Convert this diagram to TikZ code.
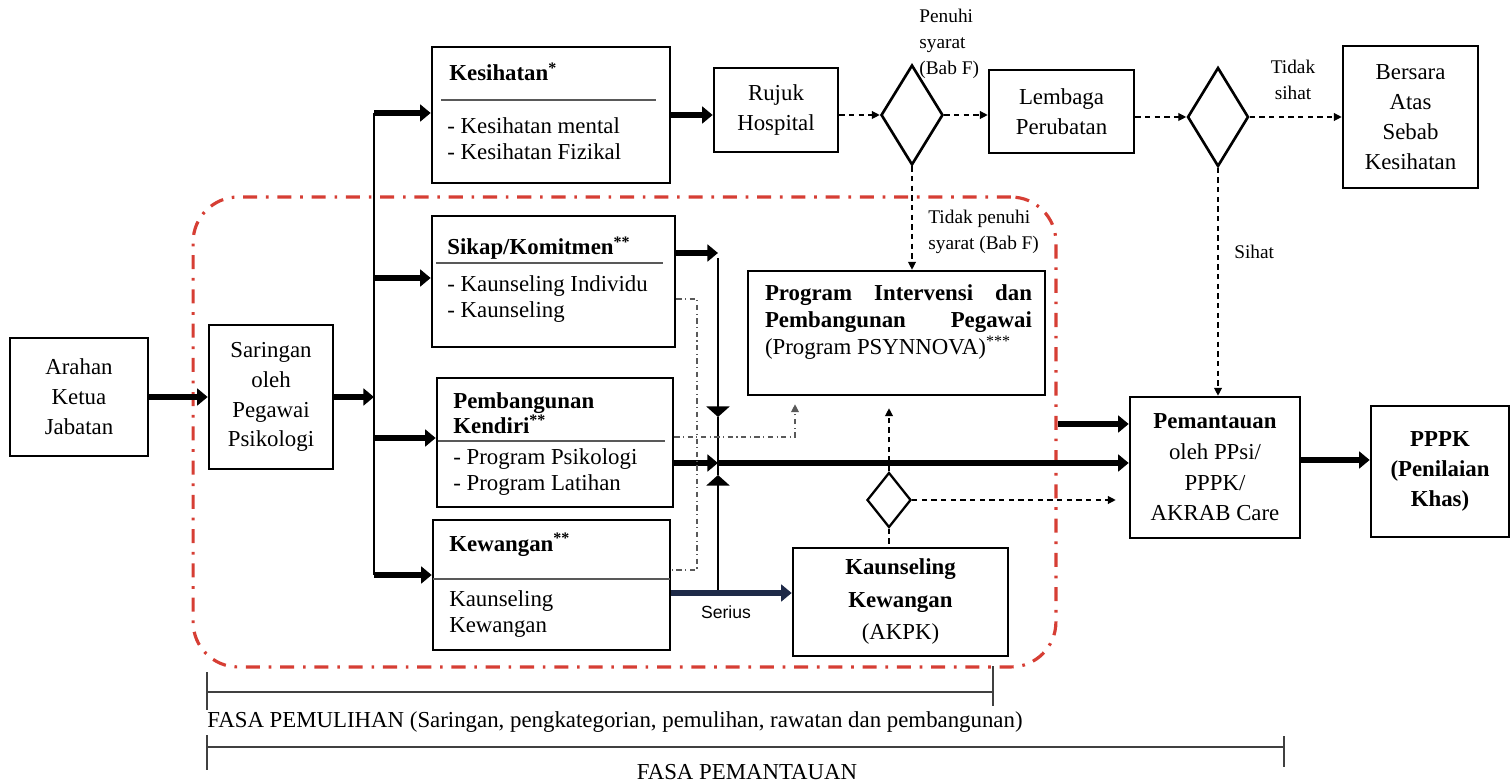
\documentclass[tikz,border=0pt]{standalone}
\usepackage{fontspec}
\setmainfont{Liberation Serif}
\setsansfont{Liberation Sans}
\usetikzlibrary{positioning}
\usetikzlibrary{calc}
\usetikzlibrary{shapes}
\usetikzlibrary{arrows.meta}

\definecolor{zonered}{RGB}{214,62,52}
\definecolor{serblue}{RGB}{30,42,72}

\tikzset{
  box/.style={draw, line width=1.5pt, inner sep=0pt, align=center, font=\fontsize{13}{17}\selectfont},
  dia/.style={draw, diamond, line width=1.5pt, inner sep=0pt},
  hd/.style={anchor=west, inner sep=0pt, align=left, font=\fontsize{13}{14.5}\selectfont\bfseries},
  it/.style={anchor=west, inner sep=0pt, align=left, font=\fontsize{13}{15}\selectfont},
  lbl/.style={inner sep=0pt, align=left, font=\fontsize{11}{15}\selectfont},
  sep/.style={line width=0.6pt, gray!70!black},
  big/.style={line width=3.3pt, -{Triangle[length=6pt,width=9.5pt]}},
  vln/.style={line width=1.6pt},
  mid/.style={-{Triangle[length=6pt,width=13pt]}},
  dsh/.style={line width=0.7pt, dash pattern=on 3pt off 2.5pt, -{Triangle[length=4.5pt,width=4.5pt]}},
  dd/.style={line width=0.6pt, gray!70!black, dash pattern=on 3pt off 2pt on 0.6pt off 2pt},
  zone/.style={draw=zonered, line width=1.8pt, dash pattern=on 8pt off 5pt on 1.5pt off 5pt, rounded corners=0.9cm},
  phase/.style={line width=0.8pt, black!75}
}

\begin{document}
\begin{tikzpicture}[x=0.02cm, y=-0.02cm]
\useasboundingbox (0,0) rectangle (1511,783);

\node[zone, minimum width=17.26cm, minimum height=9.4cm] (zn) at (624.5,432) {};

\node[box, minimum width=2.76cm, minimum height=2.36cm] (ar) at (79,397) {Arahan\\Ketua\\Jabatan};
\node[box, minimum width=2.48cm, minimum height=2.88cm] (sr) at (271,397) {Saringan\\oleh\\Pegawai\\Psikologi};

\node[box, minimum width=4.76cm, minimum height=2.72cm] (ks) at (551,115) {};
\node[box, minimum width=4.86cm, minimum height=2.62cm] (sk) at (553.5,281.5) {};
\node[box, minimum width=4.72cm, minimum height=2.58cm] (pk) at (555,442.5) {};
\node[box, minimum width=4.74cm, minimum height=2.6cm] (kw) at (551.5,585) {};

\node[hd] (kst) at (449,72) {Kesihatan\textsuperscript{*}};
\draw[sep] (441,100) to (656,100);
\node[it] (ksi) at (447,139) {- Kesihatan mental\\- Kesihatan Fizikal};

\node[hd] (skt) at (447,248) {Sikap/Komitmen\textsuperscript{**}};
\draw[sep] (436,263) to (663,263);
\node[it] (ski) at (447,299) {- Kaunseling Individu\\- Kaunseling};

\node[hd] (pkt) at (453,413) {Pembangunan\\Kendiri\textsuperscript{**}};
\draw[sep] (438,441) to (665,441);
\node[it] (pki) at (453,472) {- Program Psikologi\\- Program Latihan};

\node[hd] (kwt) at (449,545) {Kewangan\textsuperscript{**}};
\draw[sep] (433,579) to (670,579);
\node[it] (kwi) at (449,614) {Kaunseling\\Kewangan};

\node[box, minimum width=2.48cm, minimum height=1.68cm] (rh) at (776,110) {Rujuk\\Hospital};
\node[dia, minimum width=1.24cm, minimum height=2cm] (d1) at (912,115) {};
\node[box, minimum width=2.9cm, minimum height=1.66cm] (lp) at (1061.5,111.5) {Lembaga\\Perubatan};
\node[dia, minimum width=1.22cm, minimum height=1.98cm] (d2) at (1218,117) {};
\node[box, minimum width=2.7cm, minimum height=2.84cm] (bs) at (1410.5,117) {Bersara\\Atas\\Sebab\\Kesihatan};

\node[box, minimum width=5.94cm, minimum height=2.48cm] (pi) at (896.5,333) {};
\node[inner sep=0pt, text width=5.34cm, align=justify, font=\fontsize{13}{15.3}\selectfont] (pit) at (898.5,322) {\textbf{Program Intervensi dan\linebreak Pembangunan Pegawai}\linebreak (Program PSYNNOVA)\textsuperscript{***}};

\node[dia, line width=1.3pt, minimum width=0.88cm, minimum height=1.1cm] (d3) at (889,500) {};
\node[box, minimum width=4.3cm, minimum height=2.16cm, font=\fontsize{13}{18.5}\selectfont] (kk) at (900.5,602) {\textbf{Kaunseling}\\\textbf{Kewangan}\\(AKPK)};

\node[box, minimum width=3.4cm, minimum height=2.82cm, font=\fontsize{13}{17.5}\selectfont] (pm) at (1215,467.5) {\textbf{Pemantauan}\\oleh PPsi/\\PPPK/\\AKRAB Care};
\node[box, minimum width=2.76cm, minimum height=2.62cm, font=\fontsize{13}{17}\selectfont\bfseries] (pp) at (1440,471.5) {PPPK\\(Penilaian\\Khas)};

\node[lbl, anchor=west] (l1) at (919,44) {Penuhi\\syarat\\(Bab F)};
\node[lbl, anchor=west] (l2) at (928,232) {Tidak penuhi\\syarat (Bab F)};
\node[lbl, align=center] (l3) at (1293,80) {Tidak\\sihat};
\node[lbl, anchor=west] (l4) at (1234,252) {Sihat};
\node[inner sep=0pt, font=\sffamily\fontsize{10}{12}\selectfont] (l5) at (726,612) {Serius};

\coordinate (b0) at (374,397);
\coordinate (b1) at (374,113);
\coordinate (b2) at (374,278);
\coordinate (b3) at (374,438);
\coordinate (b4) at (374,575);

\draw[big] (ar.east) to (sr.west);
\draw[big] (sr.east) to (b0);
\draw[vln] (b1) to (b4);
\draw[big] (b1) to (ks.west |- b1);
\draw[big] (b2) to (sk.west |- b2);
\draw[big] (b3) to (pk.west |- b3);
\draw[big] (b4) to (kw.west |- b4);

\draw[big] (ks.east |- d1) to (rh.west |- d1);
\draw[dsh] (rh.east |- d1) to (d1.west);
\draw[dsh] (d1.east) to (lp.west |- d1);
\draw[dsh] (lp.east |- d2) to (d2.west);
\draw[dsh] (d2.east) to (bs.west |- d2);
\draw[dsh] (d2.south) to (d2.south |- pm.north);
\draw[dsh] (d1.south) to (d1.south |- pi.north);

\coordinate (v1) at (718,253);
\coordinate (m1) at (718,417);
\coordinate (jn) at (718,463);
\coordinate (m2) at (718,475);
\coordinate (v2) at (718,593);

\draw[big] (sk.east |- v1) to (v1);
\draw[vln, mid] ([yshift=-0.1cm]v1) to (m1);
\draw[vln] (m1) to (jn);
\draw[vln, mid] (v2) to (m2);
\draw[vln] (m2) to (jn);
\draw[big] (pk.east |- jn) to (jn);
\draw[big] (jn) to (pm.west |- jn);
\draw[big, serblue] (kw.east |- v2) to (kk.west |- v2);

\coordinate (z1) at (1058,424);
\draw[big] (z1) to (pm.west |- z1);
\coordinate (p1) at (1300,460);
\draw[big] (p1) to (pp.west |- p1);

\draw[dsh, shorten >=0.26cm] (d3.east) to (pm.west |- d3.east);
\draw[dsh, shorten >=0.24cm] (d3.north) to (d3.north |- pi.south);
\draw[dsh, -] (d3.south) to (d3.south |- kk.north);

\coordinate (c1) at (697,299);
\coordinate (c2) at (697,570);
\coordinate (c3) at (795,437);
\draw[dd] (sk.east |- c1) to (c1) to (c2) to (kw.east |- c2);
\draw[dd, -{Triangle[length=4.5pt,width=4.5pt]}, shorten >=0.16cm] (pk.east |- c3) to (c3) to (c3 |- pi.south);

\coordinate (f1a) at (207,692);
\coordinate (f1b) at (993,692);
\coordinate (f2a) at (207,747);
\coordinate (f2b) at (1284,747);
\draw[phase] (f1a) to (f1b);
\draw[phase] (207,672) to (207,710);
\draw[phase] (993,666) to (993,706);
\draw[phase] (f2a) to (f2b);
\draw[phase] (207,735) to (207,770);
\draw[phase] (1284,736) to (1284,767);
\node[anchor=west, inner sep=0pt, font=\fontsize{13}{15}\selectfont] (t1) at (207,722) {FASA PEMULIHAN (Saringan, pengkategorian, pemulihan, rawatan dan pembangunan)};
\node[inner sep=0pt, font=\fontsize{13}{15}\selectfont] (t2) at (747,772) {FASA PEMANTAUAN};

\end{tikzpicture}
\end{document}
